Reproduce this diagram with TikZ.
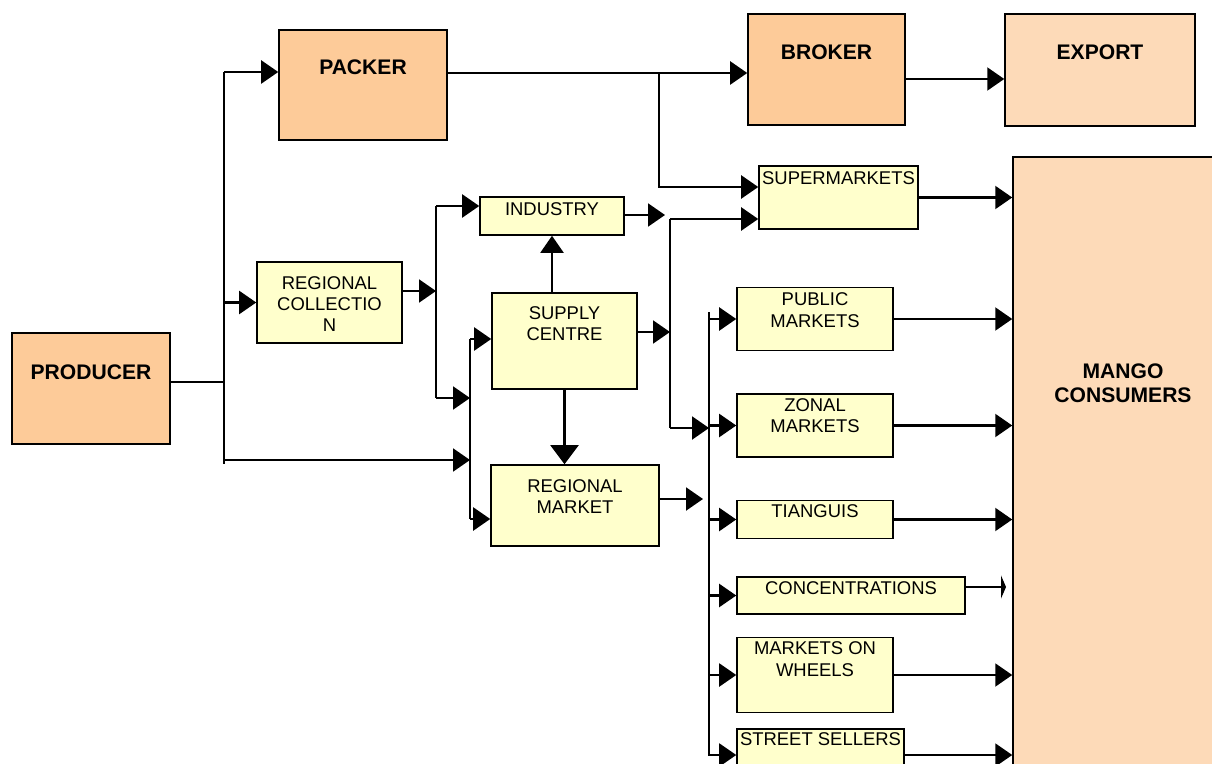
\documentclass[tikz,border=0pt]{standalone}
\usepackage{fontspec}
\setmainfont{Liberation Sans}
\usetikzlibrary{arrows.meta,calc}
\definecolor{packerorange}{RGB}{253,203,153}
\definecolor{exportpeach}{RGB}{253,218,184}
\definecolor{marketyellow}{RGB}{255,255,204}

\begin{document}
\begin{tikzpicture}[x=0.02cm,y=-0.02cm,
  font=\fontsize{10.5}{12}\selectfont,
  bigbox/.style={draw,line width=0.9pt,fill=packerorange,inner sep=0pt},
  peachbox/.style={bigbox,fill=exportpeach},
  smallbox/.style={draw,line width=0.9pt,fill=marketyellow,inner sep=0pt},
  lab/.style={anchor=north,inner sep=0pt,align=center},
  boldlab/.style={lab,font=\fontsize{12}{14}\selectfont\bfseries},
  line/.style={line width=1.2pt},
  arr/.style={line,-{Triangle[length=0.34cm,width=0.46cm]}}]
  \useasboundingbox (0,0) rectangle (1212,763);
  % orange boxes
  \node[bigbox,minimum width=3.16cm,minimum height=2.22cm,
        label={[boldlab,yshift=-0.64cm]90:PRODUCER}] (producer) at (91,388.5) {};
  \node[bigbox,minimum width=3.36cm,minimum height=2.2cm,
        label={[boldlab,yshift=-0.6cm]90:PACKER}] (packer) at (363,85) {};
  \node[bigbox,minimum width=3.14cm,minimum height=2.22cm,
        label={[boldlab,yshift=-0.62cm]90:BROKER}] (broker) at (826.5,69.5) {};
  \node[peachbox,minimum width=3.8cm,minimum height=2.24cm,
        label={[boldlab,yshift=-0.62cm]90:EXPORT}] (export) at (1100,70) {};
  \node[peachbox,minimum width=4.4cm,minimum height=12.52cm,
        label={[boldlab,yshift=-4.14cm]90:MANGO\\CONSUMERS}] (consumers) at (1123,470) {};
  % yellow boxes
  \node[smallbox,minimum width=2.9cm,minimum height=1.62cm,
        label={[lab,yshift=-0.3cm]90:REGIONAL\\COLLECTIO\\N}] (collection) at (329.5,302.5) {};
  \node[smallbox,minimum width=2.88cm,minimum height=0.76cm,
        label={[lab,yshift=-0.12cm]90:INDUSTRY}] (industry) at (552,216) {};
  \node[smallbox,minimum width=2.9cm,minimum height=1.92cm,
        label={[lab,yshift=-0.28cm]90:SUPPLY\\CENTRE}] (supply) at (564.5,341) {};
  \node[smallbox,minimum width=3.36cm,minimum height=1.62cm,
        label={[lab,yshift=-0.3cm]90:REGIONAL\\MARKET}] (regmarket) at (575,505.5) {};
  \node[smallbox,minimum width=3.18cm,minimum height=1.26cm,
        label={[lab,yshift=-0.12cm]90:SUPERMARKETS}] (supermarkets) at (838.5,197.5) {};
  \node[smallbox,minimum width=3.12cm,minimum height=1.26cm,
        label={[lab,yshift=-0.12cm]90:PUBLIC\\MARKETS}] (public) at (815,319) {};
  \node[smallbox,minimum width=3.12cm,minimum height=1.26cm,
        label={[lab,yshift=-0.1cm]90:ZONAL\\MARKETS}] (zonal) at (815,425.5) {};
  \node[smallbox,minimum width=3.12cm,minimum height=0.76cm,
        label={[lab,yshift=-0.09cm]90:TIANGUIS}] (tianguis) at (815,519.5) {};
  \node[smallbox,minimum width=4.56cm,minimum height=0.74cm,
        label={[lab,yshift=-0.1cm]90:CONCENTRATIONS}] (concentrations) at (851,595.5) {};
  \node[smallbox,minimum width=3.12cm,minimum height=1.5cm,
        label={[lab,yshift=-0.1cm]90:MARKETS ON\\WHEELS}] (wheels) at (815,675) {};
  \node[smallbox,minimum width=3.34cm,minimum height=1.04cm,
        label={[lab,yshift=-0.08cm]90:STREET SELLERS}] (street) at (820.5,755) {};
  % bus points
  \coordinate (b1top) at (224,72);
  \coordinate (b1mid) at (224,382);
  \coordinate (b1low) at (224,460);
  \coordinate (b1bot) at (224,464);
  \coordinate (b2out) at (436,291);
  \coordinate (b2top) at (436,206);
  \coordinate (b2bot) at (436,398);
  \coordinate (b3top) at (470,339);
  \coordinate (b3bot) at (470,519);
  \coordinate (indout) at (665,215);
  \coordinate (b4top) at (670,219);
  \coordinate (b4mid) at (670,332);
  \coordinate (b4bot) at (670,428);
  \coordinate (rmout) at (703,499);
  \coordinate (b5top) at (709,312);
  \coordinate (b5bot) at (709,756);
  \coordinate (pktop) at (659,73);
  \coordinate (pkbot) at (659,187);
  \coordinate (bkout) at (905,79);
  \coordinate (cnout) at (1006,587);
  % connectors
  \draw[line] (producer.east |- b1mid) -- (b1mid);
  \draw[line] (b1top) -- (b1bot);
  \draw[arr] (b1top) -- (b1top -| packer.west);
  \draw[arr] (b1top |- collection.west) -- (collection.west);
  \draw[arr] (b1low) -- (b1low -| b3top);
  \draw[arr] (collection.east |- b2out) -- (b2out);
  \draw[line] (b2top) -- (b2bot);
  \draw[arr] (b2top) -- (b2top -| industry.west);
  \draw[arr] (b2bot) -- (b2bot -| b3top);
  \draw[line] (b3top) -- (b3bot);
  \draw[arr] (b3top) -- (b3top -| supply.west);
  \draw[arr] (b3bot) -- (b3bot -| regmarket.west);
  \draw[arr] (industry.south |- supply.north) -- (industry.south);
  \draw[line,-{Triangle[length=0.38cm,width=0.56cm]}] (supply.south) -- (supply.south |- regmarket.north);
  \draw[arr] (industry.east |- indout) -- (indout);
  \draw[arr] (supply.east |- b4mid) -- (b4mid);
  \draw[line] (b4top) -- (b4bot);
  \draw[arr] (b4top) -- (b4top -| supermarkets.west);
  \draw[arr] (b4bot) -- (b4bot -| b5top);
  \draw[arr] (regmarket.east |- rmout) -- (rmout);
  \draw[line] (b5top) -- (b5bot);
  \foreach \m in {public,zonal,tianguis,concentrations,wheels,street}
    \draw[arr] (\m.west -| b5top) -- (\m.west);
  \draw[arr] (packer.east |- pktop) -- (pktop -| broker.west);
  \draw[arr] (pktop) -- (pkbot) -- (pkbot -| supermarkets.west);
  \draw[arr] (broker.east |- bkout) -- (bkout -| export.west);
  \foreach \m in {supermarkets,public,zonal,tianguis,wheels,street}
    \draw[arr] (\m.east) -- (\m.east -| consumers.west);
  \draw[line,-{Triangle[length=0.1cm,width=0.46cm]}] (concentrations.east |- cnout) -- (cnout);
\end{tikzpicture}
\end{document}
